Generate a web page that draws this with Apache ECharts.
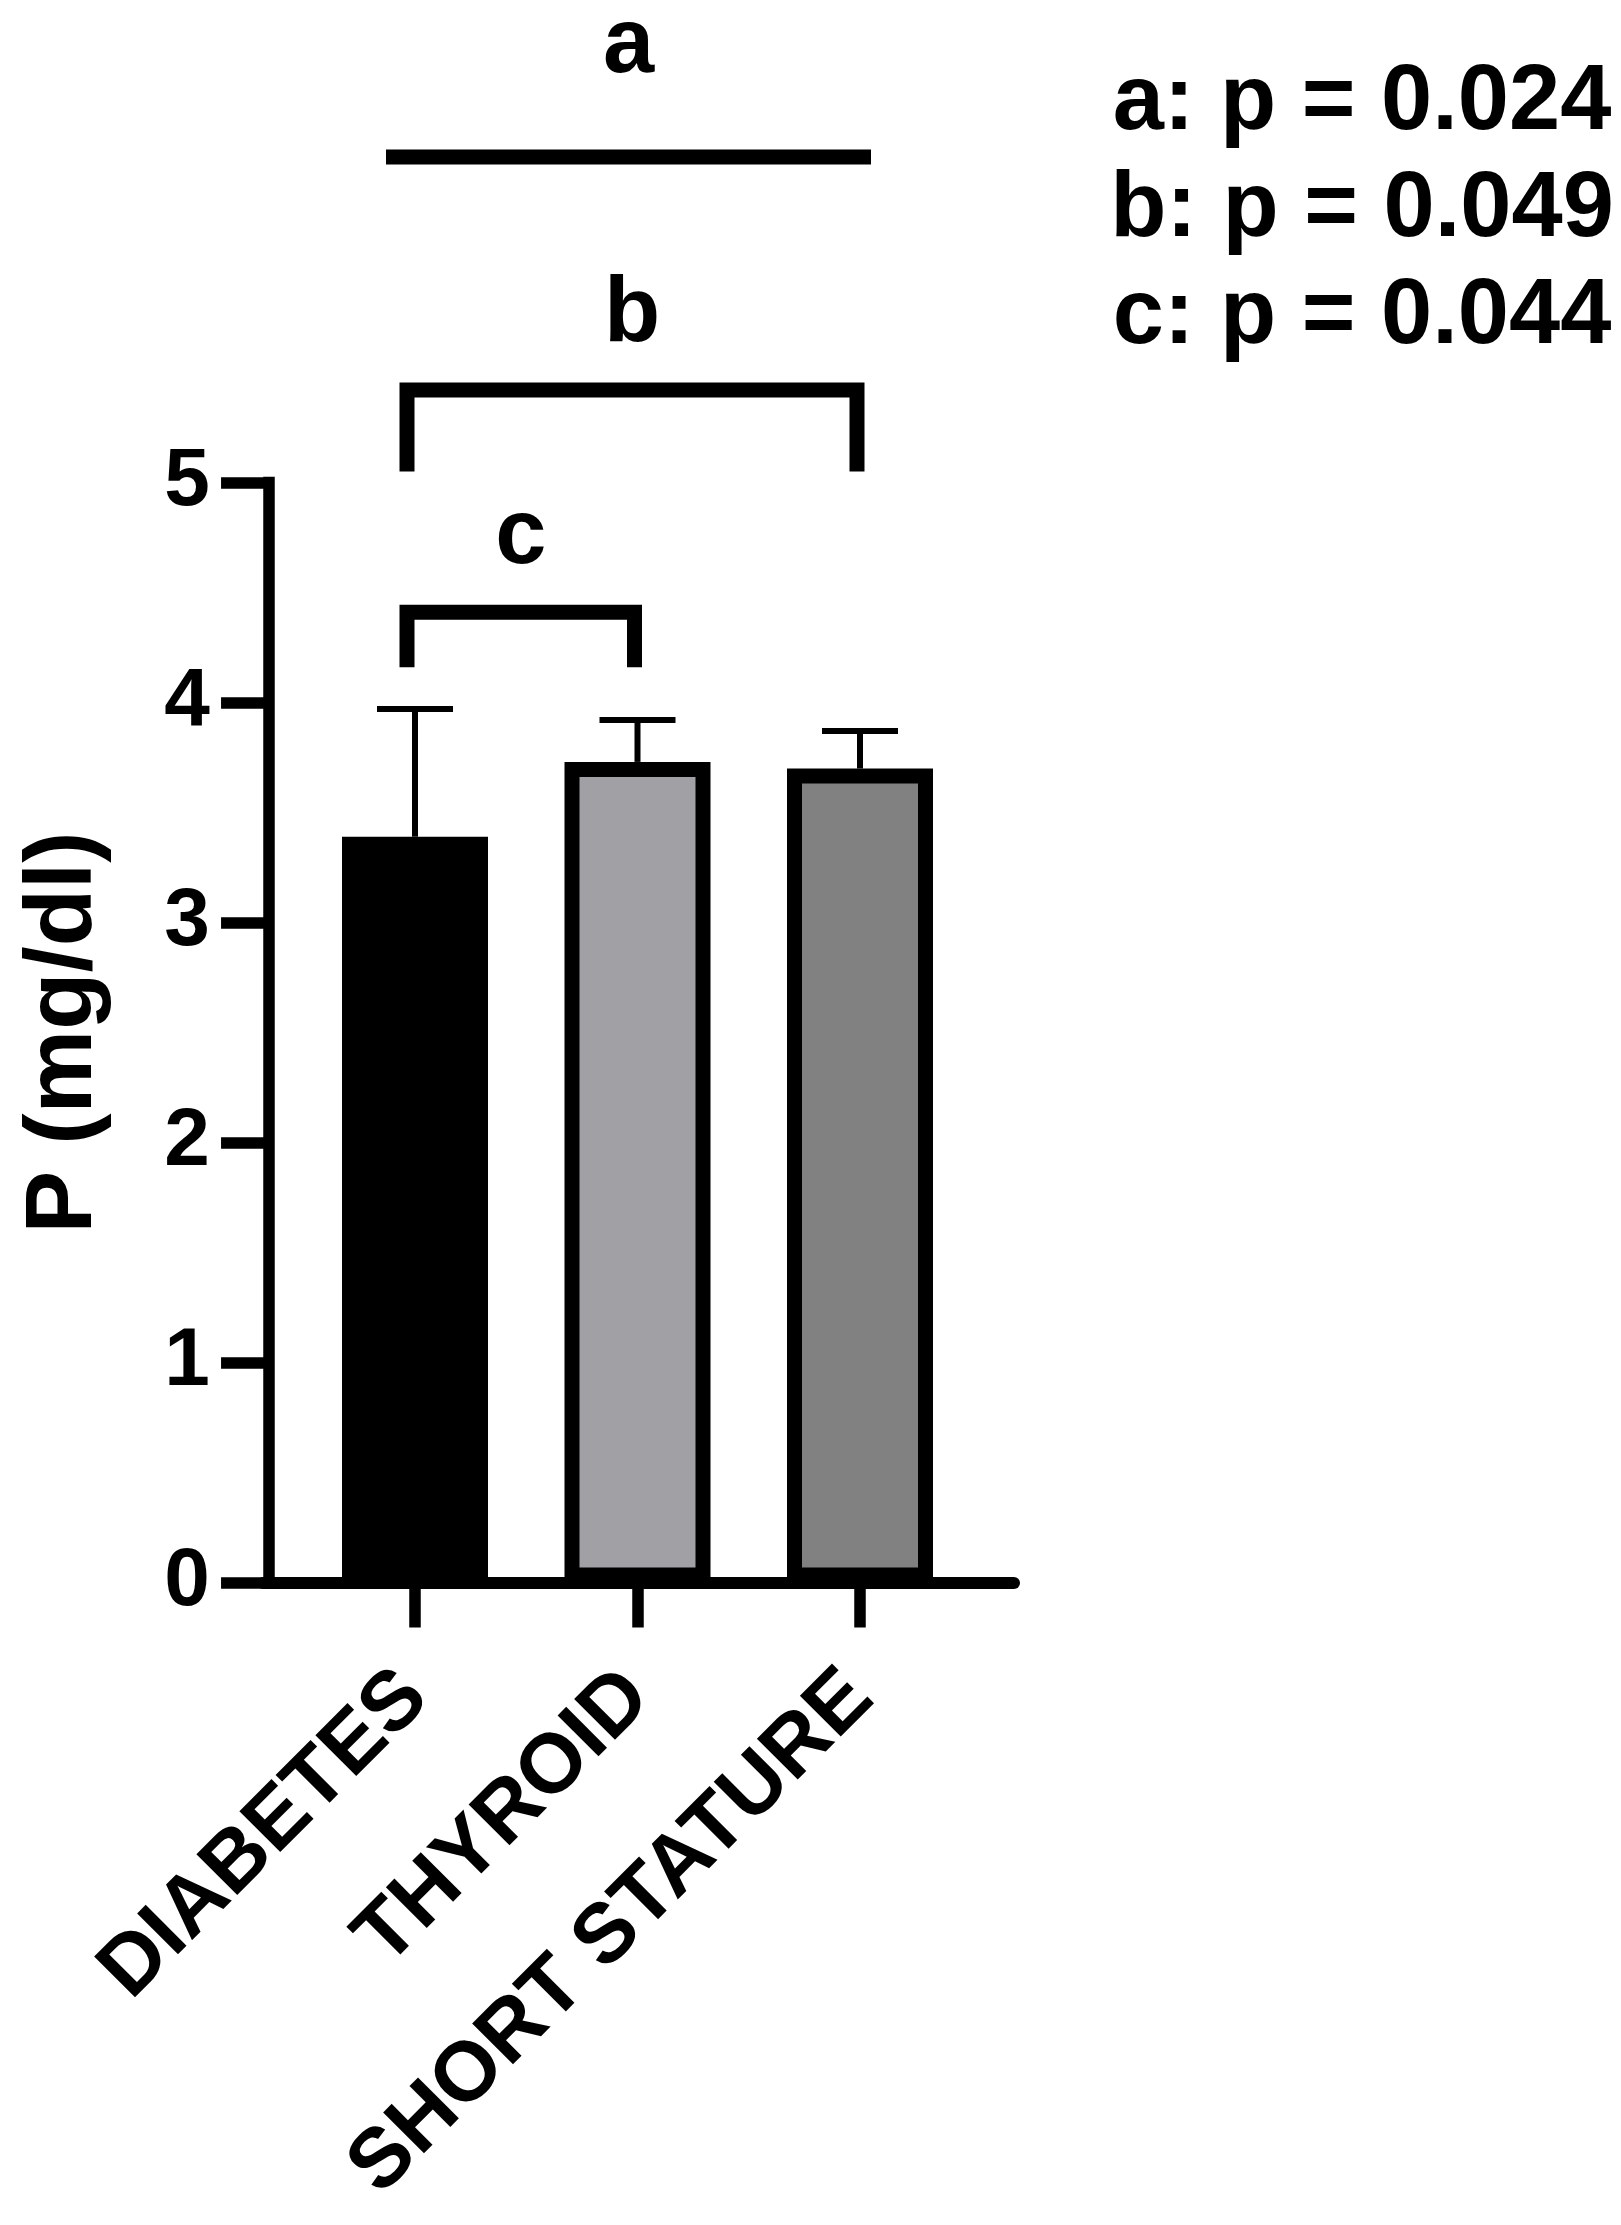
<!DOCTYPE html>
<html>
<head>
<meta charset="utf-8">
<script src="https://cdn.jsdelivr.net/npm/echarts@6.0.0/dist/echarts.min.js"></script>
<style>
html, body { margin: 0; padding: 0; background: #fff; }
#main { width: 1621px; height: 2225px; }
</style>
</head>
<body>
<div id="main"></div>
<script>
// data
var categories = ['DIABETES', 'THYROID', 'SHORT STATURE'];
var means = [3.39, 3.73, 3.70];
var sdUp = [0.58, 0.19, 0.17];
var barColors = ['#000000', '#a1a1a5', '#818181'];

// significance brackets
var sigLabels = ['a', 'b', 'c'];
var sigFrom = [0, 0, 0];
var sigTo = [2, 2, 1];
var sigLineY = [6.48, 5.42, 4.41];
var sigLegY = [6.48, 5.05, 4.16];
var sigTextY = [6.98, 5.76, 4.75];
var pTexts = ['a: p = 0.024', 'b: p = 0.049', 'c: p = 0.044'];

var FONT = '"Liberation Sans", Arial, Helvetica, sans-serif';
var chart = echarts.init(document.getElementById('main'));

var option = {
    backgroundColor: '#ffffff',
    animation: false,
    grid: [
        { left: 303.75, right: 649.75, top: 482.5, bottom: 642.5, outerBoundsMode: 'none' },
        { left: 263, right: 607, top: 482.5, bottom: 642.5, outerBoundsMode: 'none' }
    ],
    xAxis: [
        {
            type: 'category',
            gridIndex: 0,
            data: categories,
            axisLine: { show: false },
            axisTick: {
                show: true,
                alignWithLabel: true,
                length: 45,
                lineStyle: { color: '#000', width: 11.5 }
            },
            axisLabel: {
                interval: 0,
                rotate: 45,
                margin: 102,
                fontSize: 84,
                fontWeight: 'bold',
                fontFamily: FONT,
                color: '#000'
            },
            splitLine: { show: false }
        },
        {
            // long baseline that runs past the bars, like the original
            type: 'value',
            gridIndex: 1,
            min: 0,
            max: 1,
            axisLine: { show: true, onZero: false, lineStyle: { color: '#000', width: 12 } },
            axisTick: { show: false },
            axisLabel: { show: false },
            splitLine: { show: false }
        }
    ],
    yAxis: [
        {
            type: 'value',
            gridIndex: 0,
            min: 0,
            max: 5,
            interval: 1,
            offset: 35,
            name: 'P (mg/dl)',
            nameLocation: 'middle',
            nameGap: 157,
            nameTextStyle: {
                fontSize: 94,
                fontWeight: 'bold',
                fontFamily: FONT,
                color: '#000'
            },
            axisLine: { show: true, lineStyle: { color: '#000', width: 11.5, cap: 'square' } },
            axisTick: { show: true, length: 47.7, lineStyle: { color: '#000', width: 11.7 } },
            axisLabel: {
                margin: 59,
                fontSize: 82,
                fontWeight: 'bold',
                fontFamily: FONT,
                color: '#000'
            },
            splitLine: { show: false }
        },
        { type: 'value', gridIndex: 1, min: 0, max: 1, show: false }
    ],
    graphic: [
        {
            type: 'text',
            x: 1362,
            y: 50.6,
            style: {
                text: pTexts.join('\n'),
                font: 'bold 92px ' + FONT,
                fill: '#000',
                textAlign: 'center',
                textVerticalAlign: 'top',
                lineHeight: 107
            }
        }
    ],
    series: [
        {
            type: 'custom',
            name: 'sd',
            xAxisIndex: 0,
            yAxisIndex: 0,
            z: 1,
            clip: false,
            data: categories.map(function (c, i) { return [i, means[i], means[i] + sdUp[i]]; }),
            renderItem: function (params, api) {
                var base = api.coord([api.value(0), api.value(1)]);
                var top = api.coord([api.value(0), api.value(2)]);
                var st = { stroke: '#000', lineWidth: 6 };
                return {
                    type: 'group',
                    children: [
                        { type: 'line', shape: { x1: base[0], y1: base[1], x2: top[0], y2: top[1] }, style: st },
                        { type: 'line', shape: { x1: top[0] - 38, y1: top[1], x2: top[0] + 38, y2: top[1] }, style: st }
                    ]
                };
            }
        },
        {
            type: 'bar',
            xAxisIndex: 0,
            yAxisIndex: 0,
            z: 2,
            barWidth: 146,
            data: means.map(function (v, i) {
                return { value: v, itemStyle: { color: barColors[i] } };
            }),
            itemStyle: { borderColor: '#000', borderWidth: 15 },
            emphasis: { disabled: true }
        },
        {
            type: 'custom',
            name: 'sig',
            xAxisIndex: 0,
            yAxisIndex: 0,
            z: 3,
            clip: false,
            data: sigLabels.map(function (l, i) {
                return [sigFrom[i], sigLineY[i], sigTo[i], sigLegY[i], sigTextY[i]];
            }),
            renderItem: function (params, api) {
                var i = params.dataIndex;
                var pL = api.coord([api.value(0), api.value(1)]);
                var pR = api.coord([api.value(2), api.value(1)]);
                var legY = api.coord([api.value(0), api.value(3)])[1];
                var txtY = api.coord([api.value(0), api.value(4)])[1];
                var children = [];
                var lx, rx;
                if (api.value(3) === api.value(1)) {
                    lx = pL[0] - 29;
                    rx = pR[0] + 11;
                    children.push({
                        type: 'line',
                        shape: { x1: lx, y1: pL[1], x2: rx, y2: pR[1] },
                        style: { stroke: '#000', lineWidth: 15 }
                    });
                } else {
                    lx = pL[0] - 8;
                    rx = pR[0] - 3;
                    children.push({
                        type: 'polyline',
                        shape: { points: [[lx, legY], [lx, pL[1]], [rx, pR[1]], [rx, legY]] },
                        style: { stroke: '#000', lineWidth: 15, lineJoin: 'miter', fill: null }
                    });
                }
                children.push({
                    type: 'text',
                    x: (lx + rx) / 2,
                    y: txtY,
                    style: {
                        text: sigLabels[i],
                        font: 'bold 92px ' + FONT,
                        fill: '#000',
                        textAlign: 'center',
                        textVerticalAlign: 'middle'
                    }
                });
                return { type: 'group', children: children };
            }
        }
    ]
};

option && chart.setOption(option);
</script>
</body>
</html>
